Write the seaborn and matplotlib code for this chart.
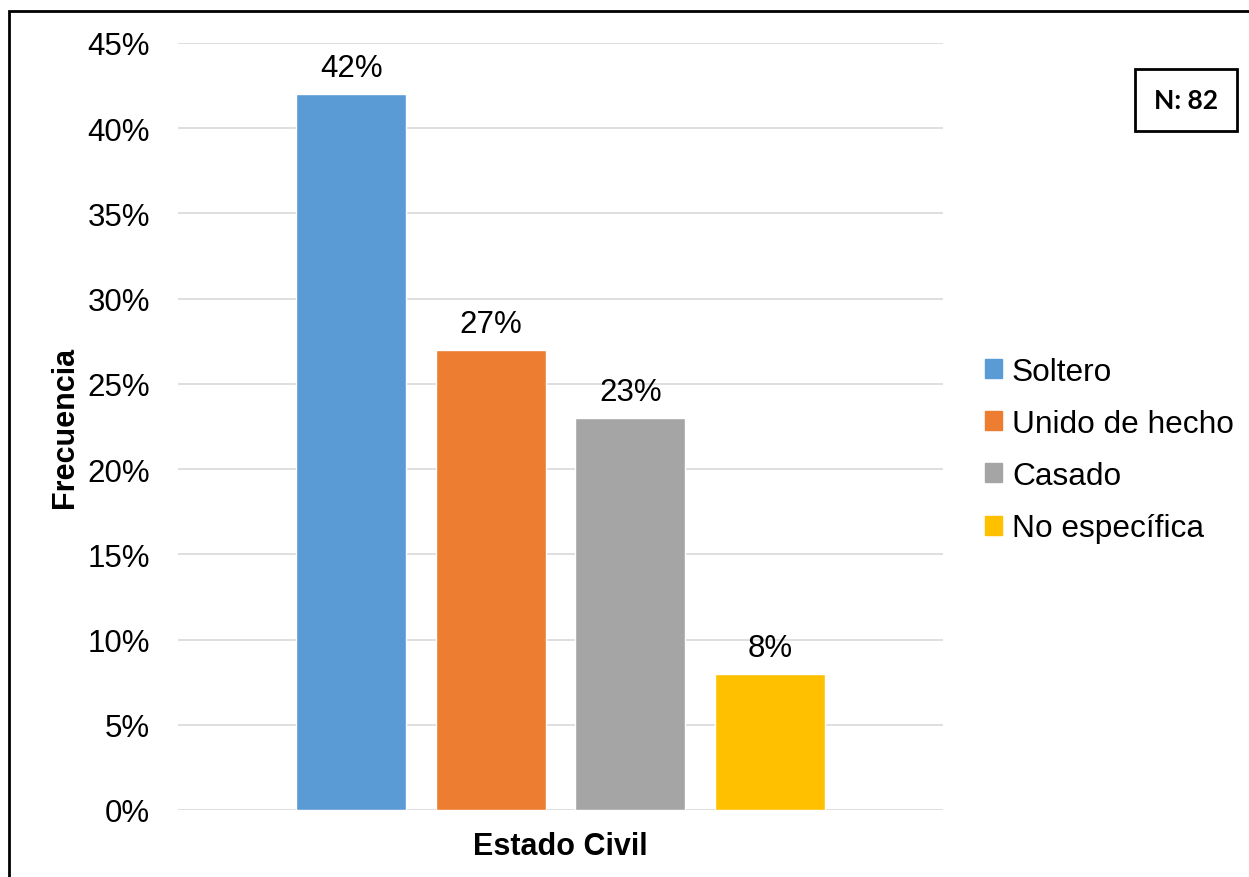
import matplotlib
matplotlib.use("Agg")
import matplotlib.pyplot as plt
import matplotlib.patches as mpatches
from matplotlib.ticker import PercentFormatter, MultipleLocator
import seaborn as sns
import pandas as pd

categories = ["Soltero", "Unido de hecho", "Casado", "No específica"]
values = [42, 27, 23, 8]
colors = ["#5B9BD5", "#ED7D31", "#A5A5A5", "#FFC000"]
group_label = "Estado Civil"
y_label = "Frecuencia"
n_text = "N: 82"

df = pd.DataFrame({"grupo": [group_label] * len(categories),
                   "estado": categories,
                   "valor": values})

sns.set_theme(style="white")
plt.rcParams["font.family"] = ["Liberation Sans", "DejaVu Sans"]
plt.rcParams["text.color"] = "black"

W, H = 1249, 878
fig = plt.figure(figsize=(W / 100, H / 100), dpi=100)
ax = fig.add_axes([178 / W, 1 - 811 / H, (943 - 178) / W, (811 - 44) / H])

sns.barplot(data=df, x="grupo", y="valor", hue="estado", hue_order=categories,
            palette=colors, width=0.73, gap=0.21, ax=ax, legend=False,
            saturation=1, errorbar=None)

ax.set_xlim(-0.5, 0.5)
ax.set_ylim(0, 45)
ax.yaxis.set_major_locator(MultipleLocator(5))
ax.yaxis.set_major_formatter(PercentFormatter(decimals=0))
ax.grid(axis="y", color="#D9D9D9", linewidth=1.2)
ax.set_axisbelow(True)
for s in ax.spines.values():
    s.set_visible(False)
ax.tick_params(axis="y", length=0, pad=20, labelsize=22.5, labelcolor="black")
ax.set_xticks([])

for cont in ax.containers:
    ax.bar_label(cont, labels=[f"{v:.0f}%" for v in cont.datavalues],
                 padding=8, fontsize=22.5, color="black")

ax.set_ylabel(y_label, fontsize=22, fontweight="bold", color="black")
ax.yaxis.set_label_coords(-0.128, 0.5)
ax.set_xlabel(group_label, fontsize=22, fontweight="bold", color="black", va="top")
ax.xaxis.set_label_coords(0.5, -0.028)

handles = [mpatches.Patch(color=c, label=l) for c, l in zip(colors, categories)]
leg = fig.legend(handles=handles, loc="center left",
                 bbox_to_anchor=(985 / W, 1 - 451 / H), frameon=False,
                 fontsize=22.8, handlelength=0.55, handleheight=0.55,
                 handletextpad=0.3, labelspacing=0.7, borderpad=0, borderaxespad=0)
for t in leg.get_texts():
    t.set_color("black")

fig.text(1186 / W, 1 - 101 / H, n_text, fontsize=19, fontweight="bold",
         family=["Lato", "DejaVu Sans"], ha="center", va="center",
         bbox=dict(boxstyle="square,pad=0.72", fc="white", ec="black", lw=2))

fig.patches.append(mpatches.Rectangle((9 / W, -0.1), 1.2, 1.1 - 12 / H,
                                      transform=fig.transFigure, fill=False,
                                      ec="black", lw=2, clip_on=False))

fig.savefig("out.png", dpi=100)
